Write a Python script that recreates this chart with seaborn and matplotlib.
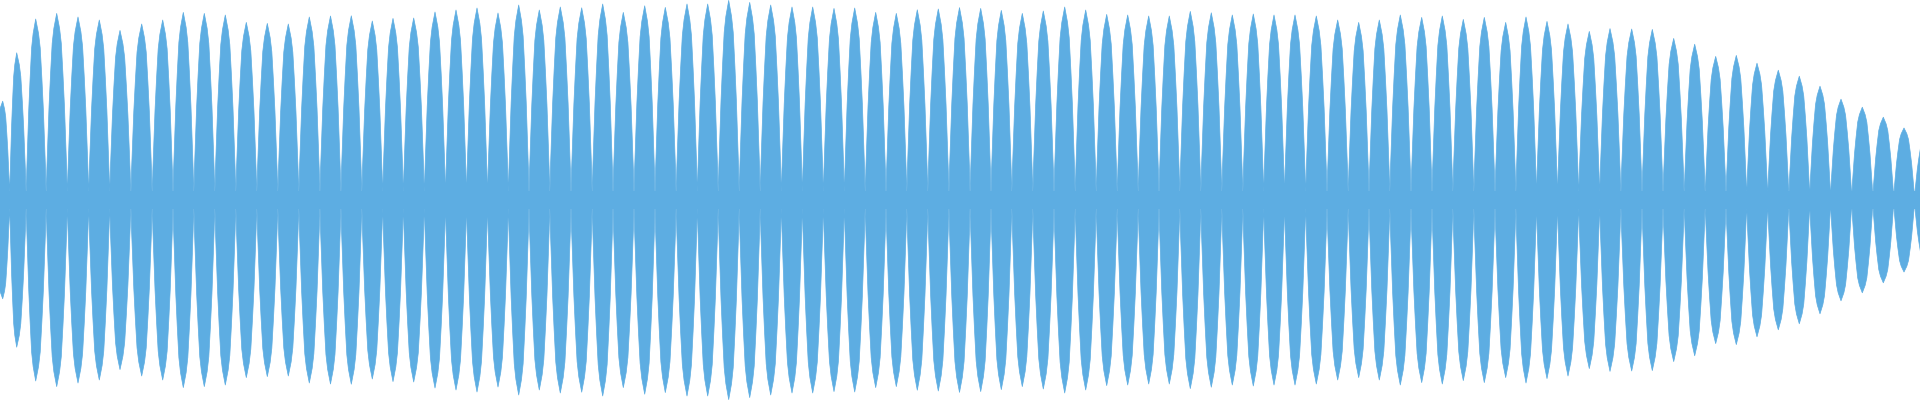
import numpy as np
import pandas as pd
import seaborn as sns
import matplotlib
matplotlib.use("Agg")
import matplotlib.pyplot as plt

# beat peaks of the waveform (time in ms, relative amplitude)
beat_times = [2.7, 16.7, 35.7, 56.7, 78, 99.3, 120, 141.7, 162.7, 183.3,
              204.3, 225.3, 246.3, 267.3, 288.3, 309.3, 330.5, 351.3, 372.3, 393,
              413.7, 435, 456, 477, 498, 518.7, 539.3, 560.3, 581.7, 602.7,
              623.3, 644.7, 665.3, 687, 707.7, 728.7, 749.7, 770.7, 792, 812.7,
              834, 854.7, 875.7, 896.3, 917.3, 938.3, 959.5, 980.7, 1001.3, 1022.3,
              1043.3, 1064.7, 1085.7, 1106.7, 1127.7, 1148.7, 1169.3, 1190.3, 1211.3, 1232.3,
              1253.3, 1274, 1295, 1316.3, 1337.7, 1358.7, 1379.3, 1400.3, 1421.7, 1442.3,
              1463.3, 1484.3, 1505.7, 1526, 1547, 1568, 1589.3, 1610, 1631.7, 1652.3,
              1673.7, 1694.7, 1715.7, 1736.3, 1757, 1778.3, 1799.3, 1820, 1841, 1862.3,
              1883.3, 1904, 1925]
beat_peaks = [0.494, 0.736, 0.905, 0.933, 0.915, 0.900, 0.848, 0.880, 0.900, 0.938,
              0.933, 0.925, 0.888, 0.883, 0.880, 0.915, 0.920, 0.921, 0.895, 0.908,
              0.910, 0.940, 0.950, 0.960, 0.935, 0.975, 0.950, 0.965, 0.961, 0.980,
              0.938, 0.971, 0.963, 0.980, 0.980, 0.998, 0.988, 0.975, 0.965, 0.965,
              0.958, 0.960, 0.938, 0.933, 0.951, 0.955, 0.962, 0.958, 0.948, 0.933,
              0.945, 0.965, 0.950, 0.928, 0.925, 0.920, 0.920, 0.943, 0.936, 0.925,
              0.930, 0.925, 0.925, 0.920, 0.900, 0.888, 0.900, 0.925, 0.913, 0.920,
              0.903, 0.913, 0.888, 0.915, 0.893, 0.880, 0.843, 0.857, 0.855, 0.853,
              0.808, 0.779, 0.718, 0.723, 0.684, 0.649, 0.619, 0.569, 0.504, 0.464,
              0.414, 0.360, 0.310]

# shape of one beat: height vs distance from the peak (fraction of half spacing)
lobe_offsets = [0.0, 0.27, 0.43, 0.59, 0.73, 0.94, 1.0]
lobe_heights = [1.0, 0.92, 0.84, 0.67, 0.50, 0.16, 0.0]
noise_floor = 0.046
duration = 1920

color = "#5DADE2"

# build the envelope, one lobe per beat
t, env = [], []
n = len(beat_times)
for k in range(n):
    left = beat_times[k] - beat_times[k - 1] if k > 0 else 21
    right = beat_times[k + 1] - beat_times[k] if k < n - 1 else 21
    for u, h in zip(lobe_offsets[::-1], lobe_heights[::-1]):
        t.append(beat_times[k] - u * left / 2)
        env.append(beat_peaks[k] * h)
    for u, h in zip(lobe_offsets[1:], lobe_heights[1:]):
        t.append(beat_times[k] + u * right / 2)
        env.append(beat_peaks[k] * h)

df = pd.DataFrame({"t": t, "upper": env})
df["lower"] = -df["upper"]

sns.set_theme(style="white")
fig = plt.figure(figsize=(19.2, 4), dpi=100)
ax = fig.add_axes([0, 0, 1, 1])

sns.lineplot(data=df, x="t", y="upper", color=color, lw=0.5, estimator=None, sort=False, ax=ax)
sns.lineplot(data=df, x="t", y="lower", color=color, lw=0.5, estimator=None, sort=False, ax=ax)
ax.fill_between(df["t"], df["lower"], df["upper"], color=color, lw=0)
ax.fill_between([0, duration], [-noise_floor, -noise_floor], [noise_floor, noise_floor], color=color, lw=0)

ax.set_xlim(0, duration)
ax.set_ylim(-1, 1)
ax.axis("off")

fig.savefig("out.png", dpi=100)
